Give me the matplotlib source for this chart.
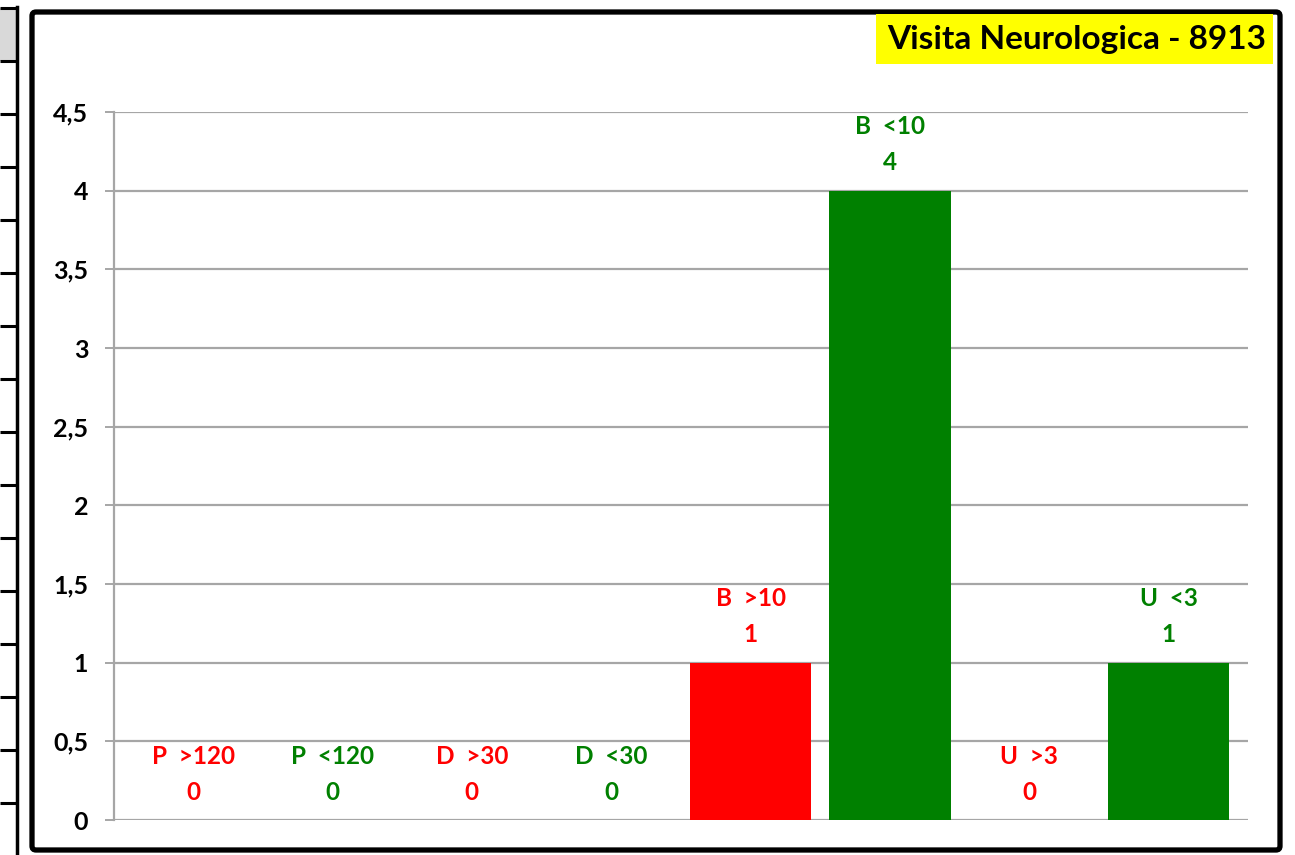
import numpy as np
import matplotlib
matplotlib.use('Agg')
import matplotlib.pyplot as plt
from matplotlib.patches import Rectangle, FancyBboxPatch

plt.rcParams['font.family'] = ['Lato', 'DejaVu Sans']

categories = ['P  >120', 'P  <120', 'D  >30', 'D  <30', 'B  >10', 'B  <10', 'U  >3', 'U  <3']
values = [0, 0, 0, 0, 1, 4, 0, 1]
over_limit = [True, False, True, False, True, False, True, False]
title = 'Visita Neurologica - 8913'
yticks = [0, 0.5, 1, 1.5, 2, 2.5, 3, 3.5, 4, 4.5]

RED = '#ff0000'
GREEN = '#008000'
GRID = '#a6a6a6'

W, H = 1295, 855
fig = plt.figure(figsize=(W / 100, H / 100), dpi=100)

def px(x0, y0, x1, y1):
    # pixel box (top-left origin) -> figure fraction rect
    return [x0 / W, 1 - y1 / H, (x1 - x0) / W, (y1 - y0) / H]

# spreadsheet cells peeking at the left edge
bg = fig.add_axes([0, 0, 1, 1])
bg.set_xlim(0, W)
bg.set_ylim(H, 0)
bg.axis('off')
bg.add_patch(Rectangle((0, 8), 16, 53, facecolor='#d9d9d9', edgecolor='none'))
for k in range(16):
    yy = 8 + 53 * k
    bg.plot([0, 17], [yy, yy], color='black', lw=2.2, solid_capstyle='butt')
bg.plot([16.5, 16.5], [7, H], color='black', lw=2.5)

# chart frame
bg.add_patch(FancyBboxPatch((32, 12), 1248, 838, boxstyle='round,pad=0,rounding_size=4',
                            facecolor='white', edgecolor='black', lw=3.8))

# title box
bg.add_patch(Rectangle((876, 14), 397, 50, facecolor='#ffff00', edgecolor='none'))
bg.text(1266, 40, title, ha='right', va='center', fontsize=24, fontweight='bold',
        color='black')

ax = fig.add_axes(px(114, 112, 1248, 820))
x = np.arange(len(categories))
colors = [RED if o else GREEN for o in over_limit]
ax.bar(x, values, width=0.87, color=colors, zorder=3)

for xi, v, c, lab in zip(x, values, colors, categories):
    ax.annotate(lab, (xi, v), xytext=(0, 64), textcoords='offset pixels',
                ha='center', va='center', fontsize=17.5, fontweight='bold', color=c)
    ax.annotate(str(v), (xi, v), xytext=(0, 28), textcoords='offset pixels',
                ha='center', va='center', fontsize=17.5, fontweight='bold', color=c)

ax.set_xlim(-0.567, 7.568)
ax.set_ylim(0, 4.5)
ax.set_yticks(yticks)
ax.set_yticklabels([('%g' % t).replace('.', ',') for t in yticks],
                   fontsize=18, fontweight='bold')
ax.set_xticks([])
ax.yaxis.grid(True, color=GRID, lw=1.6, zorder=0)
ax.set_axisbelow(True)
ax.tick_params(axis='y', length=6.5, width=1.4, color=GRID, pad=12)
for s in ['top', 'right', 'bottom']:
    ax.spines[s].set_visible(False)
ax.spines['left'].set_color(GRID)
ax.spines['left'].set_linewidth(1.6)
ax.patch.set_alpha(0)

fig.savefig('out.png', dpi=100)
